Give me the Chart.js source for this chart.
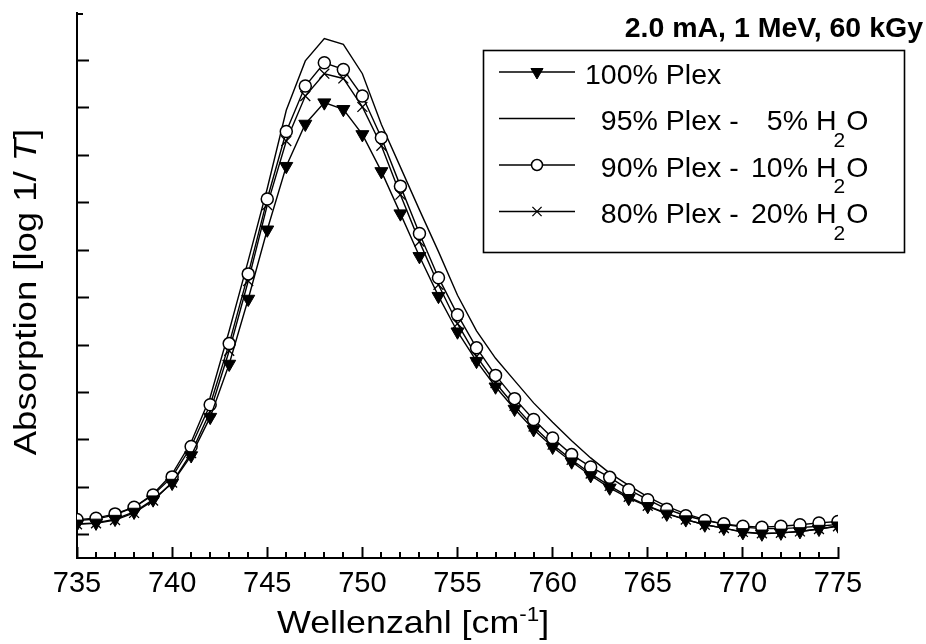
<!DOCTYPE html>
<html>
<head>
<meta charset="utf-8">
<script src="https://cdn.jsdelivr.net/npm/chart.js@4.4.1/dist/chart.umd.min.js"></script>
<style>
  html, body { margin: 0; padding: 0; background: #fff; }
  canvas { display: block; }
</style>
</head>
<body>
<canvas id="chart" width="926" height="644" style="width:926px;height:644px"></canvas>
<script>
// Wavenumber grid [cm-1]
const wavenumbers = [735, 736, 737, 738, 739, 740, 741, 742, 743, 744,
                     745, 746, 747, 748, 749, 750, 751, 752, 753, 754,
                     755, 756, 757, 758, 759, 760, 761, 762, 763, 764,
                     765, 766, 767, 768, 769, 770, 771, 772, 773, 774, 775];

// Absorption (arbitrary units, one unit per y tick)
const plex100 = [0.23, 0.25, 0.33, 0.48, 0.74, 1.09, 1.67, 2.48, 3.60, 4.97,
                 6.43, 7.77, 8.66, 9.11, 8.97, 8.44, 7.66, 6.77, 5.87, 5.03,
                 4.28, 3.66, 3.12, 2.65, 2.22, 1.85, 1.54, 1.25, 0.99, 0.77,
                 0.60, 0.44, 0.32, 0.21, 0.14, 0.05, 0.02, 0.04, 0.07, 0.12, 0.19];
const plex95 = [0.30, 0.33, 0.42, 0.58, 0.86, 1.28, 1.95, 2.90, 4.30, 5.78,
                7.30, 8.95, 9.99, 10.46, 10.34, 9.72, 8.65, 7.75, 6.85, 5.97,
                5.05, 4.30, 3.72, 3.25, 2.78, 2.37, 1.98, 1.62, 1.30, 1.04,
                0.80, 0.60, 0.44, 0.32, 0.22, 0.16, 0.13, 0.13, 0.15, 0.18, 0.22];
const plex90 = [0.32, 0.35, 0.44, 0.58, 0.84, 1.22, 1.86, 2.74, 4.03, 5.50,
                7.08, 8.50, 9.46, 9.95, 9.81, 9.25, 8.37, 7.35, 6.35, 5.42,
                4.64, 3.94, 3.36, 2.87, 2.43, 2.04, 1.69, 1.43, 1.21, 0.95,
                0.74, 0.54, 0.40, 0.30, 0.23, 0.18, 0.16, 0.18, 0.21, 0.25, 0.28];
const plex80 = [0.22, 0.24, 0.31, 0.46, 0.72, 1.10, 1.72, 2.60, 3.88, 5.35,
                6.95, 8.30, 9.25, 9.72, 9.62, 9.02, 8.20, 7.17, 6.18, 5.27,
                4.45, 3.76, 3.20, 2.72, 2.28, 1.90, 1.58, 1.29, 1.03, 0.80,
                0.61, 0.45, 0.32, 0.21, 0.14, 0.06, 0.03, 0.04, 0.07, 0.12, 0.18];

// Legend text pieces: Plex share and water share
const plexShares  = ['100%', '95%', '90%', '80%'];
const waterShares = [null, '5%', '10%', '20%'];
const titleText   = '2.0 mA, 1 MeV, 60 kGy';

const FONT = '"Liberation Sans", Arial, Helvetica, sans-serif';

const pts = arr => wavenumbers.map((x, i) => ({ x: x, y: arr[i] }));

const seriesStyles = [
  { data: plex100, pointStyle: 'triangle', rotation: 180, radius: 7.5, fill: '#000', bw: 1, order: 0 },
  { data: plex95,  pointStyle: false,      rotation: 0,   radius: 0,   fill: '#000', bw: 0, order: 3 },
  { data: plex90,  pointStyle: 'circle',   rotation: 0,   radius: 6,   fill: '#fff', bw: 1.5, order: 1 },
  { data: plex80,  pointStyle: 'crossRot', rotation: 0,   radius: 7,   fill: '#000', bw: 1.3, order: 2 }
];

const datasets = seriesStyles.map((s, i) => ({
  label: plexShares[i] + ' Plex' + (waterShares[i] ? ' - ' + waterShares[i] + ' H2O' : ''),
  data: pts(s.data),
  order: s.order,
  borderColor: '#000',
  borderWidth: 1.4,
  tension: 0,
  fill: false,
  pointStyle: s.pointStyle || 'circle',
  pointRadius: s.radius,
  pointRotation: s.rotation,
  pointBackgroundColor: s.fill,
  pointBorderColor: '#000',
  pointBorderWidth: s.bw,
  pointHoverRadius: s.radius
}));

// Text drawn with a horizontal stretch factor
function stretchedText(ctx, text, x, y, sx) {
  ctx.save();
  ctx.translate(x, y);
  ctx.scale(sx, 1);
  ctx.fillText(text, 0, 0);
  ctx.restore();
  return ctx.measureText(text).width * sx;
}

const decorations = {
  id: 'decorations',
  afterDraw(chart) {
    const ctx = chart.ctx;
    const xs = chart.scales.x;
    const area = chart.chartArea;
    ctx.save();
    ctx.strokeStyle = '#000';
    ctx.fillStyle = '#000';

    // minor x ticks (inward)
    ctx.lineWidth = 2;
    wavenumbers.filter(v => v % 5 !== 0).forEach(v => {
      const px = Math.round(xs.getPixelForValue(v));
      ctx.beginPath();
      ctx.moveTo(px, area.bottom);
      ctx.lineTo(px, area.bottom - 6);
      ctx.stroke();
    });
    // short cap at the top of the y axis
    ctx.beginPath();
    ctx.moveTo(area.left, Math.round(area.top) + 1);
    ctx.lineTo(area.left + 6, Math.round(area.top) + 1);
    ctx.stroke();

    // y axis title
    ctx.save();
    ctx.translate(36, 292);
    ctx.rotate(-Math.PI / 2);
    ctx.textBaseline = 'alphabetic';
    ctx.textAlign = 'left';
    const sy = 1.14;
    const fN = '32px ' + FONT, fI = 'italic 32px ' + FONT;
    ctx.font = fN; const w1 = ctx.measureText('Absorption [log 1/ ').width;
    ctx.font = fI; const w2 = ctx.measureText('T').width;
    ctx.font = fN; const w3 = ctx.measureText(']').width;
    let cx = -(w1 + w2 + w3) * sy / 2;
    ctx.font = fN; cx += stretchedText(ctx, 'Absorption [log 1/ ', cx, 0, sy);
    ctx.font = fI; cx += stretchedText(ctx, 'T', cx, 0, sy);
    ctx.font = fN; stretchedText(ctx, ']', cx, 0, sy);
    ctx.restore();

    // x axis title
    ctx.textBaseline = 'alphabetic';
    ctx.textAlign = 'left';
    const sx = 1.12;
    let tx = 277;
    ctx.font = '32px ' + FONT;
    tx += stretchedText(ctx, 'Wellenzahl [cm', tx, 633, sx);
    ctx.font = '20px ' + FONT;
    tx += stretchedText(ctx, '-1', tx, 621, sx);
    ctx.font = '32px ' + FONT;
    stretchedText(ctx, ']', tx, 633, sx);

    // title
    ctx.font = 'bold 28.5px ' + FONT;
    ctx.textAlign = 'right';
    ctx.fillText(titleText, 923, 37);

    // legend box
    ctx.lineWidth = 1.6;
    ctx.strokeRect(483.5, 50.5, 421, 202);
    const rowY = [72, 118.5, 165, 211.5];
    ctx.textAlign = 'left';
    seriesStyles.forEach((s, i) => {
      const y = rowY[i];
      ctx.lineWidth = 1.4;
      ctx.beginPath();
      ctx.moveTo(499, y);
      ctx.lineTo(575, y);
      ctx.stroke();
      if (s.pointStyle) {
        ctx.fillStyle = s.fill;
        ctx.lineWidth = s.bw;
        Chart.helpers.drawPoint(ctx, {
          pointStyle: s.pointStyle,
          rotation: s.rotation,
          radius: s.pointStyle === 'circle' ? 5.5 : s.radius - 0.5,
          borderWidth: s.bw
        }, 537, y);
      }
      ctx.fillStyle = '#000';
      const base = y + 11.5;
      ctx.font = '28.5px ' + FONT;
      const r1 = 585 + ctx.measureText('100%').width;
      ctx.textAlign = 'right';
      ctx.fillText(plexShares[i], r1, base);
      ctx.textAlign = 'left';
      ctx.fillText(waterShares[i] ? ' Plex -' : ' Plex', r1, base);
      if (waterShares[i]) {
        const r2 = 808;
        ctx.textAlign = 'right';
        ctx.fillText(waterShares[i], r2, base);
        ctx.textAlign = 'left';
        ctx.fillText(' H', r2, base);
        const hx = r2 + ctx.measureText(' H').width - 3;
        ctx.font = '21px ' + FONT;
        ctx.fillText('2', hx, base + 16.5);
        const ox = hx + ctx.measureText('2').width + 1;
        ctx.font = '28.5px ' + FONT;
        ctx.fillText('O', ox, base);
      }
    });
    ctx.restore();
  }
};

new Chart(document.getElementById('chart'), {
  type: 'line',
  data: { datasets: datasets },
  plugins: [decorations],
  options: {
    responsive: false,
    animation: false,
    devicePixelRatio: 1,
    layout: { padding: { left: 0, right: 88, top: 13, bottom: 0 } },
    plugins: { legend: { display: false }, tooltip: { enabled: false } },
    elements: { line: { borderCapStyle: 'butt', borderJoinStyle: 'miter' } },
    scales: {
      x: {
        type: 'linear',
        position: 'bottom',
        min: 735,
        max: 775,
        afterFit: s => { s.height = 86; },
        border: { color: '#000', width: 2 },
        grid: { drawOnChartArea: false, drawTicks: true, tickLength: -11, tickWidth: 2, tickColor: '#000' },
        ticks: {
          stepSize: 5,
          autoSkip: false,
          maxRotation: 0,
          padding: 20,
          color: '#000',
          font: { family: FONT, size: 29 },
          callback: v => String(v)
        }
      },
      y: {
        type: 'linear',
        min: -0.49,
        max: 11,
        afterFit: s => { s.width = 77; },
        border: { color: '#000', width: 2 },
        grid: {
          drawOnChartArea: false,
          drawTicks: true,
          tickLength: -12,
          tickWidth: 2,
          tickColor: c => (c.tick && c.tick.value > 10.5) ? 'rgba(0,0,0,0)' : '#000'
        },
        ticks: { display: false, stepSize: 1, includeBounds: false }
      }
    }
  }
});
</script>
</body>
</html>
